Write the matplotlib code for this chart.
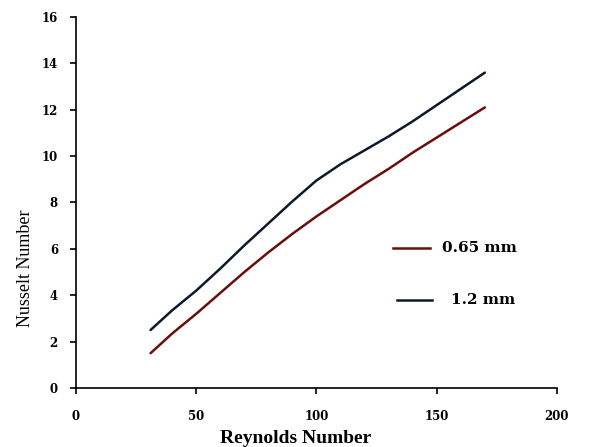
import numpy as np
import matplotlib.pyplot as plt

# Nusselt number vs Reynolds number for two channel sizes
re_065 = [31, 40, 50, 60, 70, 80, 90, 100, 110, 120, 130, 140, 150, 160, 170]
nu_065 = [1.5, 2.35, 3.2, 4.1, 5.0, 5.85, 6.65, 7.4, 8.1, 8.8, 9.45, 10.15, 10.8, 11.45, 12.1]

re_12 = [31, 40, 50, 60, 70, 80, 90, 100, 110, 120, 130, 140, 150, 160, 170]
nu_12 = [2.5, 3.35, 4.2, 5.15, 6.15, 7.1, 8.05, 8.95, 9.65, 10.25, 10.85, 11.5, 12.2, 12.9, 13.6]

labels = ['0.65 mm', '1.2 mm']
xticks = [0, 50, 100, 150, 200]
yticks = [0, 2, 4, 6, 8, 10, 12, 14, 16]

red = '#6a0d0d'
navy = '#0b1a2b'

fig = plt.figure(figsize=(6.05, 4.47), dpi=100)
ax = fig.add_axes([0.1256, 0.132, 0.795, 0.830])

ax.plot(re_065, nu_065, color=red, lw=1.8, solid_capstyle='round', solid_joinstyle='round')
ax.plot(re_12, nu_12, color=navy, lw=1.8, solid_capstyle='round', solid_joinstyle='round')

ax.set_xlim(0, 200)
ax.set_ylim(0, 16)
ax.set_xticks(xticks)
ax.set_yticks(yticks)

for s in ['top', 'right']:
    ax.spines[s].set_visible(False)
for s in ['left', 'bottom']:
    ax.spines[s].set_linewidth(1.2)

ax.tick_params(direction='out', length=4, width=1.2)
ax.tick_params(axis='y', pad=9)
ax.tick_params(axis='x', pad=12)
for t in ax.get_xticklabels() + ax.get_yticklabels():
    t.set_fontfamily('DejaVu Serif')
    t.set_fontweight('bold')
    t.set_fontsize(8.5)

ax.set_xlabel('Reynolds Number', family='Liberation Serif', fontweight='bold', fontsize=14)
ax.set_ylabel('Nusselt Number', family='Liberation Serif', fontsize=13)
ax.xaxis.set_label_coords(0.457, -0.112)
ax.yaxis.set_label_coords(-0.088, 0.323)

# hand placed legend
tr = ax.transAxes
ax.plot([0.660, 0.737], [0.376, 0.376], color=red, lw=1.8, transform=tr, clip_on=False)
ax.plot([0.668, 0.741], [0.238, 0.238], color=navy, lw=1.8, transform=tr, clip_on=False)
ax.text(0.760, 0.376, labels[0], transform=tr, va='center', family='DejaVu Serif',
        fontweight='bold', fontsize=11)
ax.text(0.780, 0.238, labels[1], transform=tr, va='center', family='DejaVu Serif',
        fontweight='bold', fontsize=11)

fig.savefig('out.png', dpi=100)
